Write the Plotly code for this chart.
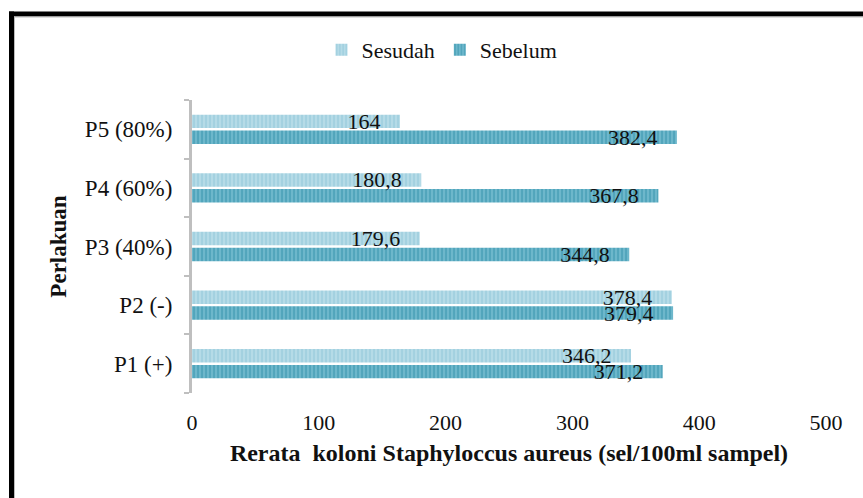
import plotly.graph_objects as go

categories = ["P1 (+)", "P2 (-)", "P3 (40%)", "P4 (60%)", "P5 (80%)"]
sesudah = [346.2, 378.4, 179.6, 180.8, 164]
sebelum = [371.2, 379.4, 344.8, 367.8, 382.4]
x_ticks = [0, 100, 200, 300, 400, 500]

PAD = "\u00a0\u00a0\u00a0"

def fmt(v):
    return f"{v:g}".replace(".", ",") + PAD

SERIF = "Liberation Serif, Times New Roman, serif"

W, H = 863, 498
L, R, T, B = 192, 37, 100, 105
pw, ph = W - L - R, H - T - B

def px_x(px):
    return (px - L) / pw

def px_y(py):
    return (H - B - py) / ph

fig = go.Figure()
fig.add_trace(go.Bar(
    y=categories, x=sebelum, name="Sebelum", orientation="h",
    marker=dict(color="#4aa2ba", line=dict(width=0),
                pattern=dict(shape="|", fgcolor="#3191ab", bgcolor="#6db7cb", size=4, solidity=0.45)),
    text=[fmt(v) for v in sebelum], textposition="inside", insidetextanchor="end",
    textangle=0, constraintext="none",
    insidetextfont=dict(family=SERIF, size=22, color="#111111"),
))
fig.add_trace(go.Bar(
    y=categories, x=sesudah, name="Sesudah", orientation="h",
    marker=dict(color="#a7d4e2", line=dict(width=0),
                pattern=dict(shape="|", fgcolor="#8fc6d7", bgcolor="#b5dbe7", size=4, solidity=0.45)),
    text=[fmt(v) for v in sesudah], textposition="inside", insidetextanchor="end",
    textangle=0, constraintext="none",
    insidetextfont=dict(family=SERIF, size=22, color="#111111"),
))

fig.update_layout(
    width=W, height=H,
    margin=dict(l=L, r=R, t=T, b=B),
    paper_bgcolor="white", plot_bgcolor="white",
    barmode="group", bargap=0.46, bargroupgap=0.15,
    font=dict(family=SERIF, size=22, color="#111111"),
    showlegend=True,
    legend=dict(orientation="h", traceorder="reversed",
                x=px_x(442), xanchor="center", y=px_y(50), yanchor="middle",
                font=dict(family=SERIF, size=22, color="#111111"),
                itemwidth=30, bgcolor="rgba(0,0,0,0)"),
    xaxis=dict(range=[0, 500], tickvals=x_ticks, ticktext=[str(v) for v in x_ticks],
               showgrid=False, zeroline=False, showline=False, ticks="",
               ticklabelstandoff=14,
               tickfont=dict(family=SERIF, size=22, color="#111111"),
               title=dict(text="<b>Rerata\u00a0 koloni Staphyloccus aureus (sel/100ml sampel)</b>",
                          font=dict(family=SERIF, size=24, color="#111111"), standoff=10),
               fixedrange=True),
    yaxis=dict(type="category", categoryorder="array", categoryarray=categories,
               showgrid=False, zeroline=False, showline=True, linecolor="#bfbfbf", linewidth=3,
               ticks="outside", tickson="boundaries", ticklen=5, tickwidth=2, tickcolor="#bfbfbf",
               ticklabelstandoff=12,
               tickfont=dict(family=SERIF, size=23, color="#111111"),
               title=dict(text="<b>Perlakuan</b>", font=dict(family=SERIF, size=23, color="#111111"),
                          standoff=12),
               fixedrange=True),
    shapes=[
        dict(type="line", xref="paper", yref="paper",
             x0=px_x(11.5), x1=px_x(11.5), y0=px_y(520), y1=px_y(11.5),
             line=dict(color="black", width=5)),
        dict(type="line", xref="paper", yref="paper",
             x0=px_x(9), x1=px_x(880), y0=px_y(14), y1=px_y(14),
             line=dict(color="black", width=5)),
        dict(type="line", xref="paper", yref="paper",
             x0=px_x(14.5), x1=px_x(14.5), y0=px_y(520), y1=px_y(16.5),
             line=dict(color="#bdbdbd", width=1)),
        dict(type="line", xref="paper", yref="paper",
             x0=px_x(14.5), x1=px_x(880), y0=px_y(17), y1=px_y(17),
             line=dict(color="#bdbdbd", width=1)),
    ],
)

fig.write_html("out.html", config={"displayModeBar": False},
               post_script="document.body.style.margin='0';document.body.style.overflow='hidden';")
